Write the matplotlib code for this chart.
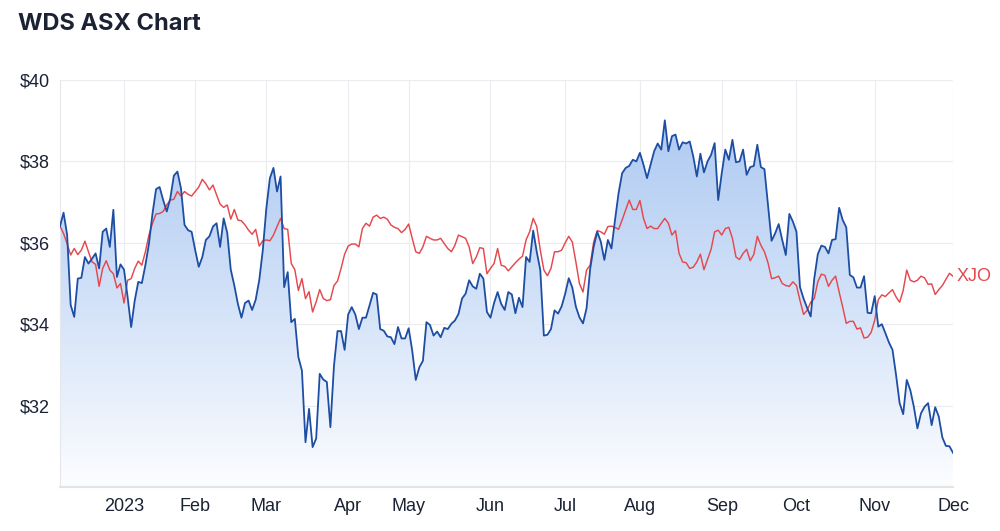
import numpy as np
import pandas as pd
import matplotlib
matplotlib.use("Agg")
import matplotlib.pyplot as plt
from matplotlib.patches import PathPatch

# ---------------- data ----------------
holidays = ["2022-12-26", "2022-12-27", "2023-01-02", "2023-01-26",
            "2023-04-07", "2023-04-10", "2023-04-25", "2023-06-12"]
dates = pd.bdate_range("2022-12-05", "2023-12-01")
dates = dates[~dates.isin(pd.to_datetime(holidays))]

wds = [
    36.41, 36.74, 36.20, 34.47, 34.18, 35.12, 35.14, 35.65, 35.49, 35.61,
    35.74, 35.37, 36.27, 36.35, 35.90, 36.81, 35.16, 35.47, 35.34, 34.67,
    33.93, 34.58, 35.04, 35.01, 35.45, 35.98, 36.72, 37.32, 37.37, 37.05,
    36.77, 37.09, 37.65, 37.75, 37.34, 36.44, 36.31, 36.27, 35.82, 35.41,
    35.65, 36.07, 36.16, 36.40, 36.48, 35.90, 36.60, 36.25, 35.34, 34.95,
    34.50, 34.16, 34.52, 34.58, 34.35, 34.60, 35.08, 35.82, 36.85, 37.59,
    37.84, 37.26, 37.63, 34.91, 35.28, 34.05, 34.13, 33.19, 32.86, 31.10,
    31.92, 30.98, 31.19, 32.78, 32.64, 32.58, 31.47, 32.97, 33.83, 33.83,
    33.37, 34.24, 34.42, 34.24, 33.88, 34.16, 34.16, 34.46, 34.77, 34.73,
    33.88, 33.84, 33.70, 33.68, 33.51, 33.93, 33.65, 33.65, 33.90, 33.35,
    32.63, 32.94, 33.10, 34.05, 33.98, 33.72, 33.82, 33.68, 33.91, 33.88,
    34.01, 34.09, 34.25, 34.63, 34.75, 35.08, 34.93, 34.87, 35.24, 35.12,
    34.30, 34.16, 34.52, 34.79, 34.50, 34.35, 34.79, 34.73, 34.27, 34.65,
    34.42, 35.65, 35.53, 36.30, 35.78, 35.33, 33.72, 33.74, 33.88, 34.34,
    34.26, 34.44, 34.75, 35.13, 34.90, 34.43, 34.17, 34.02, 34.39, 35.35,
    35.90, 36.27, 36.03, 35.58, 36.07, 35.86, 36.56, 37.22, 37.71, 37.84,
    37.89, 38.04, 38.00, 38.21, 37.92, 37.59, 37.92, 38.25, 38.44, 38.29,
    39.01, 38.25, 38.62, 38.66, 38.29, 38.47, 38.44, 38.49, 38.12, 37.63,
    38.19, 37.73, 38.00, 38.16, 38.45, 37.05, 37.71, 38.29, 38.04, 38.53,
    37.98, 38.00, 38.29, 37.67, 37.86, 37.89, 38.41, 37.86, 37.81, 36.93,
    36.05, 36.23, 36.46, 36.07, 35.70, 36.71, 36.52, 36.27, 34.91, 34.63,
    34.40, 34.19, 35.12, 35.72, 35.93, 35.90, 35.74, 36.07, 36.09, 36.86,
    36.56, 36.38, 35.21, 35.15, 34.90, 34.90, 35.18, 34.28, 34.27, 34.69,
    33.94, 34.00, 33.78, 33.55, 33.37, 32.75, 32.06, 31.79, 32.63, 32.38,
    31.97, 31.44, 31.81, 31.97, 32.06, 31.52, 31.96, 31.73, 31.22, 31.01,
    31.00, 30.84,
]

xjo = [
    36.41, 36.23, 35.98, 35.70, 35.86, 35.71, 35.82, 36.04, 35.78, 35.53,
    35.47, 34.93, 35.37, 35.56, 35.33, 35.24, 34.89, 35.00, 34.52, 35.08,
    35.12, 35.37, 35.55, 35.45, 35.78, 36.19, 36.48, 36.71, 36.72, 36.77,
    36.93, 37.05, 37.07, 37.26, 37.15, 37.26, 37.19, 37.15, 37.26, 37.37,
    37.56, 37.45, 37.30, 37.42, 37.18, 36.95, 36.87, 36.93, 36.58, 36.82,
    36.56, 36.54, 36.44, 36.31, 36.21, 36.33, 35.92, 36.05, 36.07, 36.05,
    36.19, 36.40, 36.60, 36.35, 36.33, 35.49, 35.34, 34.83, 35.12, 34.63,
    34.80, 34.30, 34.55, 34.85, 34.63, 34.58, 34.60, 34.95, 35.06, 35.37,
    35.72, 35.92, 35.97, 35.97, 35.90, 36.35, 36.48, 36.41, 36.63, 36.68,
    36.60, 36.63, 36.58, 36.44, 36.38, 36.35, 36.25, 36.33, 36.46, 36.11,
    35.78, 35.74, 35.90, 36.16, 36.11, 36.07, 36.07, 36.11, 35.98, 35.86,
    35.78, 35.94, 36.19, 36.15, 36.11, 35.90, 35.49, 35.65, 35.88, 35.86,
    35.24, 35.37, 35.49, 35.86, 35.45, 35.42, 35.31, 35.41, 35.51, 35.60,
    35.67, 36.07, 36.27, 36.60, 36.40, 35.82, 35.33, 35.19, 35.37, 35.78,
    35.78, 35.82, 36.00, 36.16, 36.02, 35.53, 35.00, 34.79, 35.33, 35.45,
    36.02, 36.30, 36.27, 36.21, 36.40, 36.41, 36.38, 36.33, 36.56, 36.81,
    37.05, 36.82, 36.82, 37.04, 36.60, 36.35, 36.41, 36.35, 36.35, 36.48,
    36.60, 36.48, 36.19, 36.30, 35.74, 35.53, 35.51, 35.37, 35.40, 35.53,
    35.72, 35.34, 35.59, 35.84, 36.27, 36.31, 36.19, 36.35, 36.38, 36.11,
    35.65, 35.59, 35.74, 35.84, 35.56, 35.71, 36.16, 35.94, 35.78, 35.51,
    35.12, 35.14, 35.18, 35.00, 34.95, 34.93, 35.04, 34.95, 34.58, 34.24,
    34.34, 34.54, 34.63, 35.04, 35.23, 35.20, 34.93, 35.08, 35.18, 34.79,
    34.42, 34.02, 34.07, 34.07, 33.88, 33.91, 33.66, 33.68, 33.80, 34.10,
    34.60, 34.72, 34.68, 34.77, 34.85, 34.67, 34.54, 34.83, 35.33, 35.08,
    35.04, 35.08, 35.18, 35.14, 34.98, 34.99, 34.73, 34.85, 34.95, 35.10,
    35.25, 35.18,
]

y_ticks = [32, 34, 36, 38, 40]
y_tick_labels = ["$32", "$34", "$36", "$38", "$40"]
month_starts = pd.date_range("2023-01-01", "2023-12-01", freq="MS")
month_labels = ["2023", "Feb", "Mar", "Apr", "May", "Jun",
                "Jul", "Aug", "Sep", "Oct", "Nov", "Dec"]

# ---------------- plot ----------------
BLUE = "#1d4ea3"
RED = "#e5484d"
TEXT = "#1b2233"
GRID = "#ebecef"
FONT = "Liberation Sans"

x = np.arange(len(dates))
month_pos = [int(np.searchsorted(dates.values, np.datetime64(m))) for m in month_starts]

fig = plt.figure(figsize=(10, 5.31), dpi=100)
ax = fig.add_axes([0.060, 0.0829, 0.893, 0.7664])

ymin, ymax = 30, 40
ax.set_xlim(0, len(x) - 1)
ax.set_ylim(ymin, ymax)

# gradient area under WDS
fill = ax.fill_between(x, wds, ymin, facecolor="none", edgecolor="none")
path = fill.get_paths()[0]
top = np.array([176, 203, 242]) / 255.0
bot = np.array([252, 253, 255]) / 255.0
t = np.linspace(0, 1, 256)[:, None] ** 1.1
grad = (top[None, :] * (1 - t) + bot[None, :] * t)[:, None, :]
im = ax.imshow(grad, extent=[0, len(x) - 1, ymin, max(wds)], aspect="auto",
               origin="upper", zorder=1, interpolation="bilinear")
clip = PathPatch(path, transform=ax.transData, facecolor="none", edgecolor="none")
im.set_clip_path(clip)

ax.plot(x, wds, color=BLUE, lw=1.3, zorder=4)
ax.plot(x, xjo, color=RED, lw=1.05, zorder=3)
ax.annotate("XJO", xy=(x[-1], xjo[-1]), xytext=(2.5, 0), textcoords="offset points",
            va="center", ha="left", color=RED, fontsize=13, family=FONT,
            annotation_clip=False)

ax.set_yticks(y_ticks)
ax.set_yticklabels(y_tick_labels)
ax.set_xticks(month_pos)
ax.set_xticklabels(month_labels)
ax.tick_params(axis="both", length=0, labelsize=13, labelcolor=TEXT)
ax.tick_params(axis="y", pad=7)
ax.tick_params(axis="x", pad=8)
for lab in ax.get_xticklabels() + ax.get_yticklabels():
    lab.set_family(FONT)

ax.grid(True, color=GRID, lw=0.8, zorder=0)
ax.set_axisbelow(True)
for s in ["top", "right"]:
    ax.spines[s].set_visible(False)
ax.spines["left"].set_color("#e6e7ea")
ax.spines["left"].set_linewidth(0.8)
ax.spines["bottom"].set_color("#e3e4e8")
ax.spines["bottom"].set_linewidth(1.5)

fig.text(0.018, 1 - 24 / 531, "WDS ASX Chart", fontsize=17, fontweight="bold",
         color=TEXT, va="center", ha="left", family="Inter")

fig.savefig("out.png", dpi=100, facecolor="white")
